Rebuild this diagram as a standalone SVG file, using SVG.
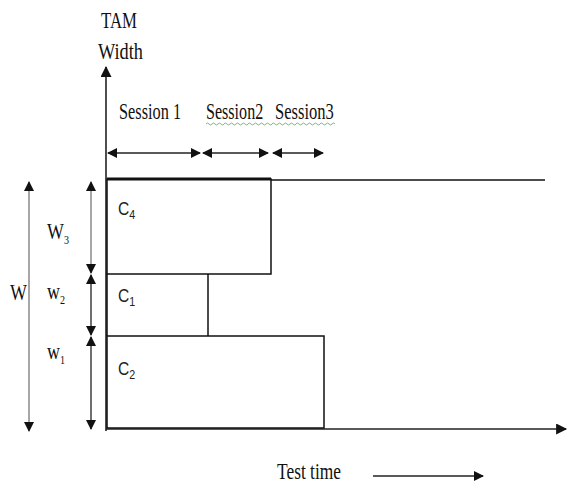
<svg xmlns="http://www.w3.org/2000/svg" width="571" height="486" viewBox="0 0 571 486">
  <style>
    .serif { font-family: "Liberation Serif", "Times New Roman", serif; font-size: 23px; fill: #111; }
    .sans { font-family: "Liberation Sans", Arial, sans-serif; font-size: 19px; fill: #222; }
    .sub { font-size: 13px; }
    .edge { fill: none; stroke: #111; stroke-width: 1.5; }
    .axis { fill: none; stroke: #222; stroke-width: 1.6; }
    .dim { fill: none; stroke: #222; stroke-width: 1.3; }
    .dimgrey { fill: none; stroke: #777; stroke-width: 1.3; }
  </style>
  <defs>
    <marker id="head" viewBox="0 0 10 10" refX="9" refY="5" markerWidth="10" markerHeight="10" markerUnits="userSpaceOnUse" orient="auto-start-reverse">
      <path d="M0,0 L10,5 L0,10 Z" fill="#111"/>
    </marker>
    <marker id="axhead" viewBox="0 0 10 10" refX="9" refY="5" markerWidth="12" markerHeight="11" markerUnits="userSpaceOnUse" orient="auto">
      <path d="M0,0 L10,5 L0,10 Z" fill="#111"/>
    </marker>
  </defs>

  <!-- axes -->
  <g id="axes">
    <line class="axis" x1="106" y1="431" x2="106" y2="67" marker-end="url(#axhead)"/>
    <line class="axis" x1="106" y1="429" x2="566" y2="429" marker-end="url(#axhead)"/>
    <text class="serif" x="101" y="28" textLength="36" lengthAdjust="spacingAndGlyphs">TAM</text>
    <text class="serif" x="98" y="59" textLength="45" lengthAdjust="spacingAndGlyphs">Width</text>
    <text class="serif" x="277" y="479" textLength="64" lengthAdjust="spacingAndGlyphs">Test time</text>
  </g>

  <!-- core blocks -->
  <g id="core-c4">
    <rect class="edge" x="107" y="179" width="164" height="95"/>
    <line x1="107" y1="179" x2="271" y2="179" stroke="#111" stroke-width="3"/>
    <text class="sans" transform="translate(118,215) scale(0.82,1)">C<tspan class="sub" dy="4">4</tspan></text>
  </g>
  <g id="core-c1">
    <path class="edge" d="M107,274 V336 M208,274 V336"/>
    <text class="sans" transform="translate(118,302) scale(0.82,1)">C<tspan class="sub" dy="4">1</tspan></text>
  </g>
  <g id="core-c2">
    <rect class="edge" x="107" y="336" width="217" height="92"/>
    <text class="sans" transform="translate(118,375) scale(0.82,1)">C<tspan class="sub" dy="4">2</tspan></text>
  </g>
  <g id="tam-limit">
    <line class="edge" x1="271" y1="180" x2="545" y2="180"/>
  </g>

  <!-- session labels -->
  <g id="sessions">
    <text class="serif" transform="translate(119,119) scale(0.71,1)">Session 1</text>
    <text class="serif" transform="translate(206,119) scale(0.70,1)">Session2</text>
    <text class="serif" transform="translate(275,119) scale(0.72,1)">Session3</text>
    <path d="M206,124 q1.5,-2 3,0 t3,0 t3,0 t3,0 t3,0 t3,0 t3,0 t3,0 t3,0 t3,0 t3,0 t3,0 t3,0 t3,0 t3,0 t3,0 t3,0 t3,0 t3,0 t3,0 t3,0 t3,0 t3,0 t3,0 t3,0 t3,0 t3,0 t3,0 t3,0 t3,0 t3,0 t3,0 t3,0 t3,0 t3,0 t3,0 t3,0 t3,0 t3,0 t3,0 t3,0 t3,0 t3,0" fill="none" stroke="#7bb77b" stroke-width="1"/>
  </g>

  <!-- width labels -->
  <g id="widths">
    <text class="serif" x="10" y="300" font-size="25" textLength="17" lengthAdjust="spacingAndGlyphs">W</text>
    <text class="serif" transform="translate(47,239) scale(0.78,1)">W<tspan class="sub" dy="5">3</tspan></text>
    <text class="serif" transform="translate(47,299) scale(0.78,1)">w<tspan class="sub" dy="5">2</tspan></text>
    <text class="serif" transform="translate(47,359) scale(0.78,1)">w<tspan class="sub" dy="5">1</tspan></text>
  </g>

  <!-- dimension connectors -->
  <g id="connectors">
    <line class="dim" x1="108" y1="153" x2="200" y2="153" marker-start="url(#head)" marker-end="url(#head)"/>
    <line class="dim" x1="203" y1="153" x2="268" y2="153" marker-start="url(#head)" marker-end="url(#head)"/>
    <line class="dim" x1="273" y1="153" x2="323" y2="153" marker-start="url(#head)" marker-end="url(#head)"/>
    <line class="dimgrey" x1="29" y1="182" x2="29" y2="431" marker-start="url(#head)" marker-end="url(#head)"/>
    <line class="dimgrey" x1="91" y1="182" x2="91" y2="273" marker-start="url(#head)" marker-end="url(#head)"/>
    <line class="dim" x1="91" y1="275" x2="91" y2="335" marker-start="url(#head)" marker-end="url(#head)"/>
    <line class="dim" x1="91" y1="337" x2="91" y2="429" marker-start="url(#head)" marker-end="url(#head)"/>
    <line class="dim" x1="373" y1="476" x2="483" y2="476" marker-end="url(#head)"/>
  </g>
</svg>
